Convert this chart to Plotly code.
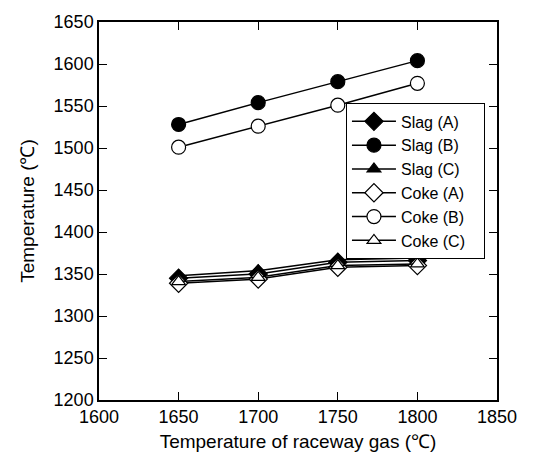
import plotly.graph_objects as go

# Raceway gas temperature (°C)
gas_temp = [1650, 1700, 1750, 1800]

# Temperatures of slag and coke for cases A, B, C (°C)
slag_a = [1345, 1350, 1364, 1366]
slag_b = [1528, 1554, 1579, 1604]
slag_c = [1348, 1354, 1367, 1369]
coke_a = [1339, 1344, 1358, 1360]
coke_b = [1501, 1526, 1551, 1577]
coke_c = [1341, 1346, 1360, 1362]

series = [
    ("Slag (A)", slag_a, "diamond", "black", 14),
    ("Slag (B)", slag_b, "circle", "black", 14),
    ("Slag (C)", slag_c, "triangle-up", "black", 12),
    ("Coke (A)", coke_a, "diamond", "white", 14),
    ("Coke (B)", coke_b, "circle", "white", 14),
    ("Coke (C)", coke_c, "triangle-up", "white", 12),
]

FONT = "Liberation Sans, Arial, sans-serif"
PAD = "\u00a0" * 3  # extra room at the right of the legend box

fig = go.Figure()
for name, vals, sym, fill, size in series:
    fig.add_trace(go.Scatter(
        x=gas_temp, y=vals, name=name + PAD, mode="lines+markers",
        line=dict(color="black", width=1.5),
        marker=dict(symbol=sym, size=size, color=fill,
                    line=dict(color="black", width=1.2)),
    ))

axis_common = dict(
    showgrid=False, zeroline=False, showline=True, linecolor="black",
    linewidth=1.5, mirror="ticks", ticks="inside", ticklen=8,
    tickcolor="black", tickwidth=1.3,
    tickfont=dict(size=18, color="black", family=FONT),
)

fig.update_layout(
    width=534, height=461,
    margin=dict(l=99, r=37, t=12, b=59),
    paper_bgcolor="white", plot_bgcolor="white",
    font=dict(family=FONT, color="black"),
    xaxis=dict(range=[1600, 1850], dtick=50, **axis_common,
               title=dict(text="Temperature of raceway gas (℃)",
                          font=dict(size=19), standoff=8)),
    yaxis=dict(range=[1200, 1650], dtick=50, **axis_common,
               title=dict(text="Temperature (℃)", font=dict(size=19), standoff=14)),
    legend=dict(
        x=0.62, y=0.785, xanchor="left", yanchor="top",
        bgcolor="white", bordercolor="black", borderwidth=1.2,
        font=dict(size=16), itemwidth=44, tracegroupgap=0,
    ),
)

fig.write_html("out.html")
